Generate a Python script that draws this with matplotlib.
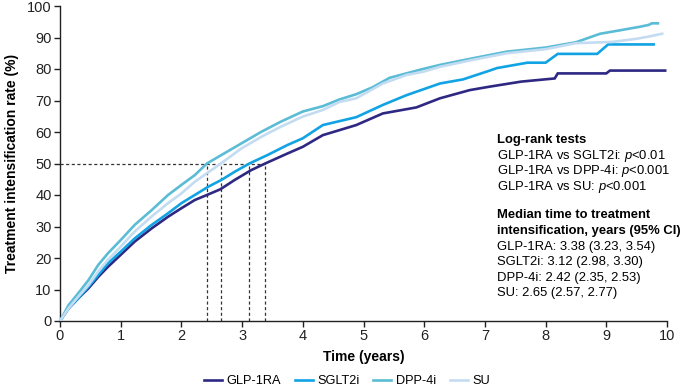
import matplotlib
matplotlib.use("Agg")
import matplotlib.pyplot as plt

plt.rcParams['font.family'] = ['Liberation Sans', 'DejaVu Sans']
plt.rcParams['mathtext.fontset'] = 'custom'
plt.rcParams['mathtext.rm'] = 'Liberation Sans'
plt.rcParams['mathtext.it'] = 'Liberation Sans:italic'

# ---- data ----
glp_t = [0, 0.14, 0.30, 0.47, 0.63, 0.79, 1.0, 1.23, 1.51, 1.78, 2.0, 2.22, 2.42, 2.64, 2.88, 3.15,
         3.38, 3.75, 4.0, 4.33, 4.88, 5.32, 5.87, 6.26, 6.75, 7.08, 7.6, 8.15, 8.2, 9.0, 9.06, 9.97]
glp_v = [0, 4, 7.2, 10.4, 14, 17.2, 21, 25.2, 29.4, 33.1, 35.8, 38.4, 40, 41.8, 44.8, 47.9,
         50, 53.2, 55.3, 59, 62.2, 65.9, 67.8, 70.7, 73.3, 74.4, 76, 77, 78.6, 78.6, 79.5, 79.5]

sglt_t = [0, 0.14, 0.30, 0.47, 0.63, 0.79, 1.0, 1.23, 1.51, 1.78, 2.0, 2.22, 2.44, 2.66, 2.88, 3.12,
          3.42, 3.75, 4.0, 4.33, 4.88, 5.32, 5.71, 6.26, 6.64, 7.08, 7.2, 7.7, 8.0, 8.2, 8.85, 9.03, 9.78]
sglt_v = [0, 4, 7.2, 10.9, 14.6, 18.3, 22, 26.2, 30.5, 34.2, 37.4, 40, 42.6, 44.8, 47.4, 50,
          52.7, 55.9, 58, 62.2, 64.7, 68.6, 71.7, 75.4, 76.7, 79.5, 80.3, 82, 82, 84.8, 84.8, 87.8, 87.8]

dpp_t = [0, 0.14, 0.30, 0.47, 0.63, 0.79, 1.0, 1.23, 1.51, 1.78, 2.0, 2.22, 2.42, 2.66, 2.99, 3.32,
         3.64, 4.0, 4.33, 4.6, 4.88, 5.15, 5.43, 5.98, 6.26, 6.8, 7.36, 8.0, 8.5, 8.9, 9.2, 9.55, 9.7, 9.75, 9.85]
dpp_v = [0, 5, 8.8, 13, 17.8, 21.5, 25.7, 30.5, 35.2, 40, 43.2, 46.3, 50, 52.7, 56.4, 60.1,
         63.3, 66.5, 68.2, 70.3, 72, 74.2, 77.2, 80, 81.3, 83.4, 85.5, 86.8, 88.5, 91.2, 92.2, 93.4, 94, 94.5, 94.5]

su_t = [0, 0.14, 0.30, 0.47, 0.63, 0.79, 1.0, 1.23, 1.51, 1.78, 2.0, 2.22, 2.65, 2.99, 3.32, 3.64,
        4.0, 4.33, 4.6, 4.88, 5.32, 5.71, 5.98, 6.26, 6.8, 7.36, 8.0, 8.5, 9.1, 9.5, 9.7, 9.92]
su_v = [0, 4, 7.7, 11.4, 15.7, 19.4, 23.6, 28.4, 33.2, 37.4, 40.5, 44.2, 50, 54.8, 58.5, 61.7,
        64.9, 67, 69.5, 70.7, 75.4, 78.1, 79.1, 80.7, 82.9, 85, 86.3, 88.2, 88.6, 89.6, 90.3, 91.2]

labels = ["GLP-1RA", "SGLT2i", "DPP-4i", "SU"]
colors = ["#2e2883", "#11a3e3", "#5bbcd6", "#c4dcf1"]
medians = [3.38, 3.12, 2.42, 2.65]

logrank_lines = ["GLP-1RA vs SGLT2i: $\\it{p}$<0.01",
                 "GLP-1RA vs DPP-4i: $\\it{p}$<0.001",
                 "GLP-1RA vs SU: $\\it{p}$<0.001"]
median_lines = ["GLP-1RA: 3.38 (3.23, 3.54)",
                "SGLT2i: 3.12 (2.98, 3.30)",
                "DPP-4i: 2.42 (2.35, 2.53)",
                "SU: 2.65 (2.57, 2.77)"]

# ---- figure ----
W, H = 685, 392
fig = plt.figure(figsize=(W / 100, H / 100), dpi=100)
ax = fig.add_axes([60 / W, 1 - 321 / H, 607 / W, 315 / H])

series = [(glp_t, glp_v), (sglt_t, sglt_v), (dpp_t, dpp_v), (su_t, su_v)]
order = [0, 1, 3, 2]
for i in order:
    t, v = series[i]
    ax.plot(t, v, color=colors[i], lw=1.9, label=labels[i], zorder=3 + i, solid_joinstyle='miter')

# median reference lines
ax.plot([0, max(medians)], [50, 50], color="#333333", lw=0.9, ls=(0, (2.5, 2)), zorder=2)
for m in medians:
    ax.plot([m, m], [0, 50], color="#333333", lw=0.9, ls=(0, (2.5, 2)), zorder=2)

ax.set_xlim(0, 10)
ax.set_ylim(0, 100)
ax.set_xticks(range(0, 11))
ax.set_yticks(range(0, 101, 10))
for s in ["top", "right"]:
    ax.spines[s].set_visible(False)
for s in ["left", "bottom"]:
    ax.spines[s].set_color("#222222")
    ax.spines[s].set_linewidth(1.0)
ax.tick_params(direction="out", length=4, width=1, colors="#222222", labelsize=10.5, pad=2)
ax.set_xlabel("Time (years)", fontsize=10, fontweight="bold", labelpad=5)
ax.set_ylabel("Treatment intensification rate (%)", fontsize=10, fontweight="bold", labelpad=6)

handles, labs = ax.get_legend_handles_labels()
hmap = dict(zip(labs, handles))
leg = fig.legend([hmap[l] for l in labels], labels, loc="center", bbox_to_anchor=(347 / W, 1 - 381 / H),
                 ncol=4, frameon=False, fontsize=9.2, handlelength=1.4, handletextpad=0.35,
                 columnspacing=1.1, borderpad=0.2)

# annotation text
x0 = 497 / W
fs = 9.4
fig.text(x0, 1 - 140 / H, "Log-rank tests", fontsize=fs, fontweight="bold", va="center", ha="left")
for k, s in enumerate(logrank_lines):
    fig.text(x0, 1 - (156 + 15.3 * k) / H, s, fontsize=fs, va="center", ha="left")
fig.text(x0, 1 - 215 / H, "Median time to treatment", fontsize=fs, fontweight="bold", va="center", ha="left")
fig.text(x0, 1 - 231 / H, "intensification, years (95% CI)", fontsize=fs, fontweight="bold", va="center", ha="left")
for k, s in enumerate(median_lines):
    fig.text(x0, 1 - (247 + 15.3 * k) / H, s, fontsize=fs, va="center", ha="left")

fig.savefig("out.png", dpi=100)
